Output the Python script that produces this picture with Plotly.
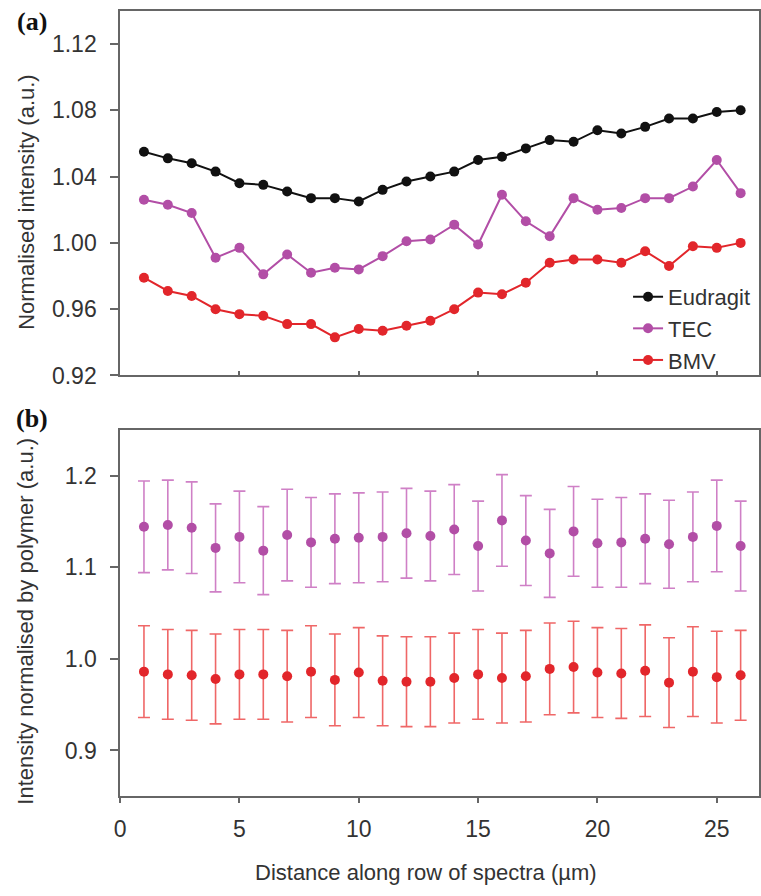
import plotly.graph_objects as go

# Position along the row of spectra (µm)
distance = list(range(1, 27))

# (a) Normalised intensity of each component
eudragit = [1.055, 1.051, 1.048, 1.043, 1.036, 1.035, 1.031, 1.027, 1.027, 1.025,
            1.032, 1.037, 1.040, 1.043, 1.050, 1.052, 1.057, 1.062, 1.061, 1.068,
            1.066, 1.070, 1.075, 1.075, 1.079, 1.080]
tec = [1.026, 1.023, 1.018, 0.991, 0.997, 0.981, 0.993, 0.982, 0.985, 0.984,
       0.992, 1.001, 1.002, 1.011, 0.999, 1.029, 1.013, 1.004, 1.027, 1.020,
       1.021, 1.027, 1.027, 1.034, 1.050, 1.030]
bmv = [0.979, 0.971, 0.968, 0.960, 0.957, 0.956, 0.951, 0.951, 0.943, 0.948,
       0.947, 0.950, 0.953, 0.960, 0.970, 0.969, 0.976, 0.988, 0.990, 0.990,
       0.988, 0.995, 0.986, 0.998, 0.997, 1.000]

# (b) Intensity normalised by polymer, with standard deviations
tec_norm = [1.144, 1.146, 1.143, 1.121, 1.133, 1.118, 1.135, 1.127, 1.131, 1.132,
            1.133, 1.137, 1.134, 1.141, 1.123, 1.151, 1.129, 1.115, 1.139, 1.126,
            1.127, 1.131, 1.125, 1.133, 1.145, 1.123]
tec_sd = [0.050, 0.049, 0.050, 0.048, 0.050, 0.048, 0.050, 0.049, 0.049, 0.049,
          0.049, 0.049, 0.049, 0.049, 0.049, 0.050, 0.049, 0.048, 0.049, 0.048,
          0.049, 0.049, 0.048, 0.049, 0.050, 0.049]
bmv_norm = [0.986, 0.983, 0.982, 0.978, 0.983, 0.983, 0.981, 0.986, 0.977, 0.985,
            0.976, 0.975, 0.975, 0.979, 0.983, 0.979, 0.981, 0.989, 0.991, 0.985,
            0.984, 0.987, 0.974, 0.986, 0.980, 0.982]
bmv_sd = [0.050, 0.049, 0.049, 0.049, 0.049, 0.049, 0.050, 0.050, 0.050, 0.049,
          0.049, 0.049, 0.049, 0.049, 0.049, 0.049, 0.050, 0.050, 0.050, 0.049,
          0.049, 0.050, 0.049, 0.049, 0.050, 0.049]

x_ticks = [0, 5, 10, 15, 20, 25]
ya_ticks = [0.92, 0.96, 1.00, 1.04, 1.08, 1.12]
yb_ticks = [0.9, 1.0, 1.1, 1.2]

BLACK = "#111111"
TEC_LINE = "#b24ea6"
TEC_ERR = "#cf80c6"
BMV_LINE = "#e2262b"
BMV_ERR = "#ef6767"
AXIS = "#666666"
TEXT = "#333333"
FONT = "Liberation Sans, Arial, sans-serif"

W, H = 761, 896
fig = go.Figure()

# Panel (a)
for name, vals, col in [("Eudragit", eudragit, BLACK), ("TEC", tec, TEC_LINE), ("BMV", bmv, BMV_LINE)]:
    fig.add_trace(go.Scatter(
        x=distance, y=vals, name=name, mode="lines+markers",
        line=dict(color=col, width=2), marker=dict(color=col, size=10),
        xaxis="x", yaxis="y"))

# Panel (b)
for vals, sd, mcol, ecol in [(tec_norm, tec_sd, TEC_LINE, TEC_ERR), (bmv_norm, bmv_sd, BMV_LINE, BMV_ERR)]:
    fig.add_trace(go.Scatter(
        x=distance, y=vals, mode="markers", showlegend=False,
        marker=dict(color=mcol, size=10),
        error_y=dict(type="data", array=sd, visible=True, color=ecol, thickness=1.6, width=6),
        xaxis="x2", yaxis="y2"))

x0, x1 = 115 / W, 759 / W
xrange_ = [0, 26.77]

common_axis = dict(showline=True, linecolor=AXIS, linewidth=1.6, mirror=True,
                   showgrid=False, zeroline=False, ticks="outside", tickcolor=AXIS,
                   tickwidth=1.5, tickfont=dict(family=FONT, size=23, color=TEXT))

fig.update_layout(
    width=W, height=H, margin=dict(l=0, r=0, t=0, b=0),
    paper_bgcolor="white", plot_bgcolor="white",
    xaxis=dict(common_axis, domain=[x0, x1], range=xrange_, tickvals=x_ticks,
               showticklabels=False, ticks="inside", ticklen=5, anchor="y"),
    yaxis=dict(common_axis, domain=[1 - 381 / H, 1 - 11 / H], range=[0.92, 1.14],
               tickvals=ya_ticks, ticktext=[f"{v:.2f}" for v in ya_ticks], ticklen=8,
               ticklabelstandoff=9, anchor="x"),
    xaxis2=dict(common_axis, domain=[x0, x1], range=xrange_, tickvals=x_ticks,
                ticklen=5, ticklabelstandoff=6, anchor="y2"),
    yaxis2=dict(common_axis, domain=[1 - 808 / H, 1 - 436 / H], range=[0.85, 1.25],
                tickvals=yb_ticks, ticktext=[f"{v:.1f}" for v in yb_ticks], ticklen=8,
                ticklabelstandoff=9, anchor="x2"),
    legend=dict(x=627 / W, y=1 - 280 / H, xanchor="left", yanchor="top",
                bgcolor="rgba(0,0,0,0)", font=dict(family=FONT, size=22, color=TEXT),
                tracegroupgap=0, itemwidth=30),
    showlegend=True,
)

# Axis titles and panel labels
ann = [
    dict(text="Normalised intensity (a.u.)", x=20 / W, y=1 - 205 / H, textangle=-90,
         font=dict(family=FONT, size=22, color=TEXT)),
    dict(text="Intensity normalised by polymer (a.u.)", x=20 / W, y=1 - 630 / H, textangle=-90,
         font=dict(family=FONT, size=22, color=TEXT)),
    dict(text="Distance along row of spectra (\u00b5m)", x=423 / W, y=1 - 885 / H,
         font=dict(family=FONT, size=22, color=TEXT)),
    dict(text="<b>(a)</b>", x=26 / W, y=1 - 22 / H,
         font=dict(family="Liberation Serif, Times New Roman, serif", size=26, color="#111111")),
    dict(text="<b>(b)</b>", x=26 / W, y=1 - 425 / H,
         font=dict(family="Liberation Serif, Times New Roman, serif", size=26, color="#111111")),
]
for a in ann:
    fig.add_annotation(xref="paper", yref="paper", showarrow=False,
                       xanchor="center", yanchor="middle", **a)

fig.write_html("out.html")
